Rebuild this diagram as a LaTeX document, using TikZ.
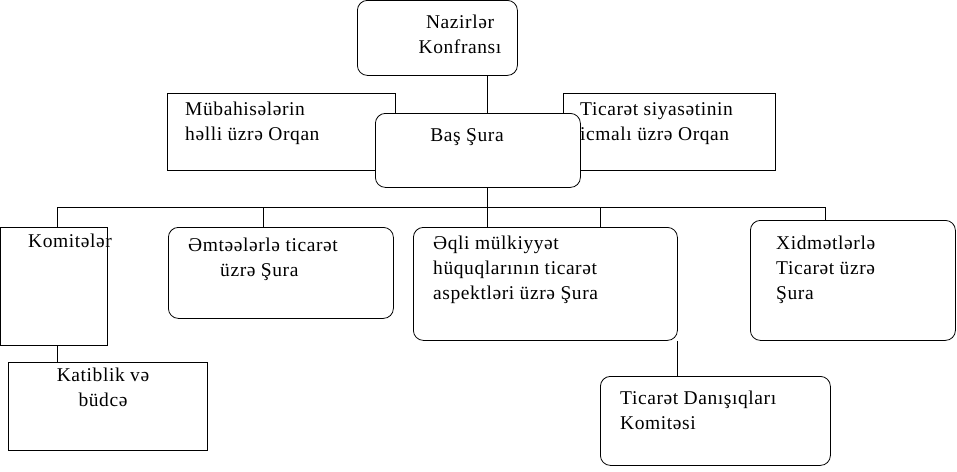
\documentclass[tikz,border=0pt]{standalone}
\usepackage{fontspec}
\setmainfont{Liberation Serif}[LetterSpace=3]
\usetikzlibrary{positioning}
\begin{document}
\begin{tikzpicture}[x=1pt, y=-1pt,
    box/.style={draw, thick, fill=white, inner sep=0pt},
    rbox/.style={box, rounded corners=10pt},
    txt/.style={font=\fontsize{19.5}{25}\selectfont, align=left, inner sep=0pt, anchor=north west},
    ctxt/.style={txt, align=center, anchor=north}
]
\useasboundingbox (0,0) rectangle (957,471);

% Top level
\node[rbox, minimum width=160, minimum height=75, anchor=north west] (naz) at (357,0) {};
\node[ctxt] (nazt) at (460,15) {Nazirlər\\Konfransı};

% Side bodies behind the general council
\node[box, minimum width=228, minimum height=77, anchor=north west] (mub) at (167,93) {};
\node[txt] (mubt) at (185,102) {Mübahisələrin\\həlli üzrə Orqan};
\node[box, minimum width=212, minimum height=77, anchor=north west] (tic) at (563,93) {};
\node[txt] (tict) at (580,102) {Ticarət siyasətinin\\icmalı üzrə Orqan};

\node[rbox, minimum width=205, minimum height=74, anchor=north west] (bas) at (375,113) {};
\node[ctxt] (bast) at (467,128) {Baş Şura};

\draw[thick] (naz.south -| 487,0) -- (bas.north -| 487,0);

% Councils row
\node[box, minimum width=107, minimum height=118, anchor=north west] (kom) at (0,227) {};
\node[txt] (komt) at (28,234) {Komitələr};
\node[rbox, minimum width=225, minimum height=91, anchor=north west] (emt) at (168,227) {};
\node[txt] (emtt) at (188,238) {Əmtəələrlə ticarət\\\hspace*{32pt}üzrə Şura};
\node[rbox, minimum width=264, minimum height=113, anchor=north west] (eql) at (413,227) {};
\node[txt] (eqlt) at (433,236) {Əqli mülkiyyət\\hüquqlarının ticarət\\aspektləri üzrə Şura};
\node[rbox, minimum width=205, minimum height=120, anchor=north west] (xid) at (750,220) {};
\node[txt] (xidt) at (776,236) {Xidmətlərlə\\Ticarət üzrə\\Şura};

\coordinate (bus) at (487,207);
\draw[thick] (bas.south -| bus) -- (bus);
\draw[thick] (57,207) -- (825,207);
\foreach \n/\x in {kom/57, emt/263, eql/487, eql/600, xid/825}
    \draw[thick] (\x,207) -- (\n.north -| \x,0);

% Lower level
\node[box, minimum width=199, minimum height=88, anchor=north west] (kat) at (8,362) {};
\node[ctxt] (katt) at (103,368) {Katiblik və\\büdcə};
\node[rbox, minimum width=230, minimum height=89, anchor=north west] (dan) at (600,376) {};
\node[txt] (dant) at (620,391) {Ticarət Danışıqları\\Komitəsi};

\draw[thick] (kom.south -| 57,0) -- (kat.north -| 57,0);
\draw[thick] (eql.south -| 677,0) -- (dan.north -| 677,0);
\end{tikzpicture}
\end{document}
